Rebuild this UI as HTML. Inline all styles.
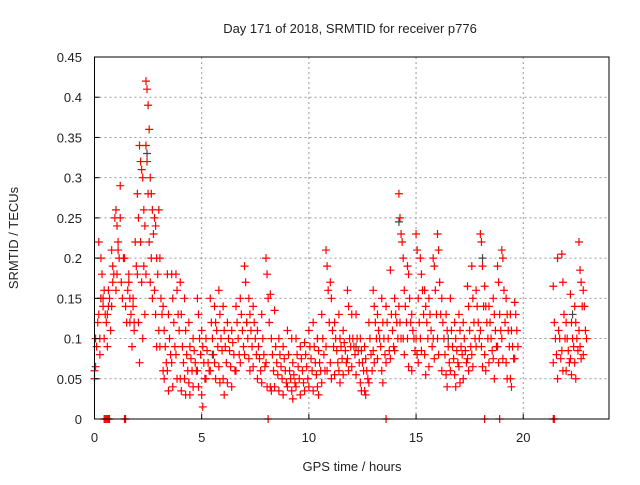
<!DOCTYPE html>
<html><head><meta charset="utf-8"><style>
body{margin:0;background:#fff;width:640px;height:480px;overflow:hidden}
svg text{font-family:"Liberation Sans",sans-serif;font-size:13px;fill:#222}
</style></head><body>
<svg id="chart" width="640" height="480" xmlns="http://www.w3.org/2000/svg">
<rect width="640" height="480" fill="#fff"/>
<text x="350" y="33" text-anchor="middle">Day 171 of 2018, SRMTID for receiver p776</text>
<text transform="translate(18,238) rotate(-90)" text-anchor="middle">SRMTID / TECUs</text>
<text x="352" y="471" text-anchor="middle">GPS time / hours</text>
<g id="grid"></g><g id="marks"></g>
<rect x="94.5" y="57" width="514.5" height="362" fill="none" stroke="#000" stroke-width="1"/>
<g id="ticks"></g>
</svg>
<script>
const xTicks=[0,5,10,15,20];
const yTicks=[0,0.05,0.1,0.15,0.2,0.25,0.3,0.35,0.4,0.45];
const yTickLabels=["0","0.05","0.1","0.15","0.2","0.25","0.3","0.35","0.4","0.45"];
const hours=[0,0.2,0.4,0.6,0.8,1.0,1.2,1.4,1.6,1.8,2.0,2.2,2.4,2.6,2.8,3.0,3.2,3.4,3.6,3.8,4.0,4.2,4.4,4.6,4.8,5.0,5.2,5.4,5.6,5.8,6.0,6.2,6.4,6.6,6.8,7.0,7.2,7.4,7.6,7.8,8.0,8.2,8.4,8.6,8.8,9.0,9.2,9.4,9.6,9.8,10.0,10.2,10.4,10.6,10.8,11.0,11.2,11.4,11.6,11.8,12.0,12.2,12.4,12.6,12.8,13.0,13.2,13.4,13.6,13.8,14.0,14.2,14.4,14.6,14.8,15.0,15.2,15.4,15.6,15.8,16.0,16.2,16.4,16.6,16.8,17.0,17.2,17.4,17.6,17.8,18.0,18.2,18.4,18.6,18.8,19.0,19.2,19.4,19.6,21.4,21.6,21.8,22.0,22.2,22.4,22.6,22.8];
const srmtid=[
[0.05,0.065,0.09,0.12,0.06,0.1],[0.22,0.1,0.15,0.18,0.13,0.08,0.2],[0.14,0.16,0.13,0.12,0.15,0.1],[0.13,0.16,0.15,0.11,0.09,0.14],
[0.21,0.19,0.18,0.25,0.14,0.17],[0.26,0.24,0.22,0.2,0.16,0.18,0.21],[0.29,0.17,0.15,0.2,0.25],[0.2,0.14,0.12,0.16],
[0.18,0.15,0.13,0.09,0.17,0.12],[0.15,0.12,0.22,0.19,0.14,0.11],[0.28,0.25,0.34,0.32,0.18,0.12,0.07,0.22],[0.31,0.3,0.26,0.24,0.17,0.1,0.19,0.13],
[0.42,0.41,0.39,0.36,0.34,0.32,0.28,0.22,0.18],[0.3,0.28,0.26,0.23,0.17,0.2,0.15],[0.25,0.24,0.2,0.18,0.16,0.13,0.09],[0.26,0.2,0.15,0.13,0.11,0.09],
[0.14,0.11,0.09,0.07,0.06,0.05],[0.18,0.13,0.1,0.08,0.06,0.035],[0.18,0.15,0.12,0.09,0.07,0.04],[0.18,0.16,0.13,0.11,0.08,0.05],
[0.17,0.13,0.09,0.07,0.05,0.035],[0.15,0.11,0.08,0.06,0.05,0.03],[0.12,0.09,0.075,0.06,0.045,0.03],[0.1,0.085,0.07,0.06,0.04],
[0.15,0.13,0.1,0.08,0.06,0.04],[0.11,0.09,0.07,0.05,0.03,0.015],[0.1,0.085,0.07,0.06,0.05],[0.15,0.12,0.1,0.08,0.06],
[0.14,0.12,0.11,0.09,0.07,0.05],[0.16,0.13,0.1,0.085,0.065,0.045],[0.14,0.11,0.09,0.07,0.05,0.03],[0.12,0.1,0.085,0.065,0.045],
[0.11,0.095,0.08,0.06,0.04],[0.14,0.12,0.1,0.08,0.06],[0.15,0.13,0.11,0.09,0.07],[0.19,0.17,0.12,0.1,0.08],
[0.15,0.13,0.11,0.09,0.075,0.06],[0.14,0.12,0.1,0.08,0.065],[0.11,0.09,0.075,0.06,0.05],[0.13,0.1,0.08,0.065,0.045],
[0.2,0.18,0.15,0.12,0.07,0.04],[0.155,0.1,0.08,0.06,0.04,0.035],[0.135,0.09,0.07,0.055,0.04],[0.1,0.08,0.065,0.05,0.035],
[0.09,0.075,0.06,0.045,0.03],[0.11,0.08,0.06,0.05,0.04],[0.1,0.07,0.055,0.045,0.035,0.025],[0.1,0.08,0.065,0.05,0.04],
[0.09,0.075,0.06,0.045,0.03],[0.095,0.08,0.065,0.05,0.035],[0.11,0.09,0.075,0.06,0.04],[0.12,0.09,0.07,0.055,0.035],
[0.1,0.085,0.07,0.06,0.04,0.03],[0.13,0.1,0.08,0.06,0.045],[0.21,0.19,0.16,0.12,0.09,0.06],[0.17,0.15,0.11,0.09,0.07,0.05],
[0.12,0.1,0.085,0.07,0.055],[0.13,0.1,0.09,0.075,0.06,0.045],[0.11,0.095,0.085,0.07,0.055],[0.16,0.14,0.1,0.09,0.075,0.06],
[0.13,0.1,0.09,0.08,0.065],[0.13,0.1,0.085,0.07,0.055],[0.1,0.085,0.07,0.06,0.045,0.035],[0.09,0.075,0.06,0.05,0.035,0.03],
[0.12,0.1,0.08,0.06,0.045],[0.16,0.14,0.12,0.1,0.085,0.07],[0.13,0.11,0.1,0.09,0.075],[0.15,0.12,0.1,0.08,0.06,0.045],
[0.14,0.12,0.1,0.085,0.07],[0.185,0.13,0.11,0.09,0.075],[0.15,0.13,0.12,0.1,0.085],[0.28,0.25,0.23,0.22,0.14,0.12,0.1],
[0.2,0.16,0.14,0.12,0.1,0.08],[0.19,0.18,0.15,0.12,0.1,0.065],[0.13,0.11,0.1,0.085,0.06],[0.23,0.21,0.15,0.12,0.1,0.08,0.07],
[0.2,0.18,0.16,0.13,0.1,0.085],[0.16,0.14,0.12,0.1,0.08,0.055],[0.15,0.13,0.11,0.09,0.065],[0.2,0.19,0.16,0.13,0.1,0.075],
[0.23,0.21,0.17,0.13,0.1,0.08],[0.15,0.12,0.1,0.08,0.06],[0.13,0.11,0.09,0.07,0.055,0.04],[0.15,0.11,0.09,0.075,0.06],
[0.12,0.1,0.085,0.07,0.055,0.04],[0.13,0.11,0.09,0.08,0.065,0.045],[0.12,0.1,0.085,0.07,0.05],[0.165,0.14,0.11,0.09,0.075,0.06],
[0.19,0.15,0.12,0.1,0.08,0.065],[0.16,0.14,0.12,0.1,0.09],[0.23,0.22,0.19,0.14,0.11,0.09,0.065],[0.165,0.14,0.12,0.1,0.08,0.06],
[0.14,0.12,0.1,0.085,0.07],[0.15,0.13,0.11,0.09,0.075,0.05],[0.19,0.17,0.13,0.11,0.09,0.07],[0.21,0.2,0.16,0.12,0.1,0.075],
[0.15,0.13,0.11,0.09,0.07,0.05],[0.13,0.11,0.09,0.075,0.05,0.04],[0.145,0.13,0.11,0.09,0.075],
[0.165,0.12,0.1,0.08,0.07],[0.2,0.11,0.1,0.075,0.05],[0.205,0.17,0.13,0.1,0.085,0.06],[0.12,0.1,0.085,0.07,0.06],
[0.155,0.12,0.1,0.09,0.075,0.055],[0.14,0.12,0.1,0.085,0.07,0.05],[0.22,0.185,0.17,0.14,0.11,0.09,0.075],[0.16,0.14,0.11,0.1,0.08]];
const zeroHours=[0.45,0.5,0.55,0.6,0.65,0.7,1.4,1.45,8.1,13.6,18.2,18.9,21.4,21.45];
const grayHours=[2.45,14.2,10.4,5.5,18.1,0.3,7.1,12.2,16.5,22.3];
const grayVals=[0.33,0.245,0.1,0.08,0.2,0.15,0.12,0.09,0.1,0.13];

const X0=94.5,X1=609,Y0=419,Y1=57,XMAX=24,YMAX=0.45;
const sx=v=>X0+v/XMAX*(X1-X0);
const sy=v=>Y0-v/YMAX*(Y0-Y1);
const NS="http://www.w3.org/2000/svg";
const grid=document.getElementById('grid'),marks=document.getElementById('marks'),ticks=document.getElementById('ticks');
function mk(tag,attrs,parent){const e=document.createElementNS(NS,tag);for(const k in attrs)e.setAttribute(k,attrs[k]);parent.appendChild(e);return e;}
xTicks.forEach(v=>{
  const x=sx(v);
  if(v>0){const g=mk('line',{x1:x,x2:x,y1:Y1,y2:Y0,stroke:'#999','stroke-dasharray':'2,3'},grid);
  
  }
  const t=mk('line',{x1:x,x2:x,y1:Y0,y2:Y0-5,stroke:'#000'},ticks);
  
  
  const l=mk('text',{x:x,y:442,'text-anchor':'middle'},ticks);l.textContent=String(v);
  
  
});
yTicks.forEach((v,i)=>{
  const y=sy(v);
  if(v>0&&v<0.45){const g=mk('line',{x1:X0,x2:X1,y1:y,y2:y,stroke:'#999','stroke-dasharray':'2,3'},grid);
  
  }
  const t=mk('line',{x1:X0,x2:X0+5,y1:y,y2:y,stroke:'#000'},ticks);
  
  
  const l=mk('text',{x:82,y:y+5,'text-anchor':'end'},ticks);l.textContent=yTickLabels[i];
  
  
});
function plus(h,v,color,name){
  const x=sx(h),y=sy(v);
  const p=mk('path',{d:`M${x-4},${y}H${x+4}M${x},${y-4}V${y+4}`,stroke:color,'stroke-width':1.2,fill:'none'},marks);
  
  
}
grayHours.forEach((h,i)=>plus(h,grayVals[i],'#444','gray-point'));
hours.forEach((h,i)=>srmtid[i].forEach((v,j)=>plus(h+(j%4)*0.05,v,'#f00','srmtid-point')));
zeroHours.forEach(h=>plus(h,0,'#f00','zero-point'));
</script>
</body></html>
